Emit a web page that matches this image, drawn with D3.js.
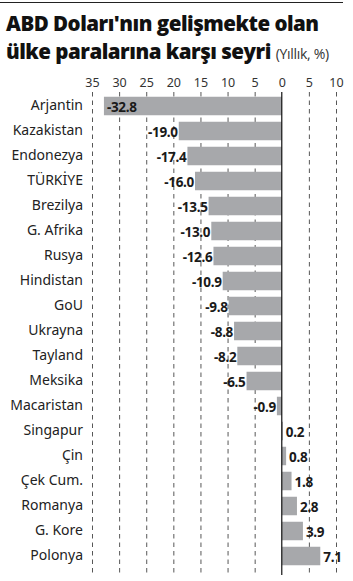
<!DOCTYPE html>
<html>
<head>
<meta charset="utf-8">
<script src="https://cdn.jsdelivr.net/npm/d3@7"></script>
<style>
  body { margin: 0; background: #fff; }
  svg { display: block; }
</style>
</head>
<body>
<svg id="chart" width="353" height="581"></svg>
<script>
var countries = ["Arjantin", "Kazakistan", "Endonezya", "TÜRKİYE", "Brezilya", "G. Afrika", "Rusya",
    "Hindistan", "GoU", "Ukrayna", "Tayland", "Meksika", "Macaristan", "Singapur", "Çin",
    "Çek Cum.", "Romanya", "G. Kore", "Polonya"];
var changes = [-32.8, -19.0, -17.4, -16.0, -13.5, -13.0, -12.6, -10.9, -9.8, -8.8, -8.2, -6.5, -0.9,
    0.2, 0.8, 1.8, 2.8, 3.9, 7.1];
var tickValues = [-35, -30, -25, -20, -15, -10, -5, 0, 5, 10];

var data = countries.map(function (c, i) { return { name: c, value: changes[i] }; });

var svg = d3.select("#chart"),
    font = "'Noto Sans', sans-serif";

// top rule
svg.append("line")
    .attr("x1", 0).attr("x2", 343)
    .attr("y1", 2.5).attr("y2", 2.5)
    .attr("stroke", "#222").attr("stroke-width", 1.2);

// title
var title = svg.append("g")
    .attr("font-family", "'Open Sans', sans-serif")
    .attr("font-weight", 800)
    .attr("fill", "#111");
title.append("text")
    .attr("x", 6).attr("y", 31)
    .attr("font-size", 20.5)
    .attr("letter-spacing", -0.5)
    .text("ABD Doları'nın gelişmekte olan");
var t2 = title.append("text")
    .attr("x", 6).attr("y", 59)
    .attr("font-size", 20.5)
    .attr("letter-spacing", -0.5);
t2.append("tspan").text("ülke paralarına karşı seyri ");
t2.append("tspan")
    .attr("font-weight", "normal")
    .attr("font-size", 14)
    .attr("letter-spacing", -0.3)
    .attr("fill", "#333")
    .text("(Yıllık, %)");

var x = d3.scaleLinear()
    .domain([-35, 10])
    .range([92, 336]);

var y = d3.scaleBand()
    .domain(countries)
    .range([93.5, 568.5])
    .paddingInner(0.26)
    .paddingOuter(0.13);

// dashed grid
svg.append("g")
    .selectAll("line")
    .data(tickValues.filter(function (d) { return d !== 0; }))
    .enter().append("line")
    .attr("x1", function (d) { return x(d) + 0.5; })
    .attr("x2", function (d) { return x(d) + 0.5; })
    .attr("y1", 92).attr("y2", 575)
    .attr("stroke", "#444")
    .attr("stroke-width", 0.9)
    .attr("stroke-dasharray", "4.5,4");

// tick labels (absolute values)
var xAxis = svg.append("g")
    .attr("transform", "translate(0,87)")
    .call(d3.axisTop(x).tickValues(tickValues).tickSize(0).tickPadding(0)
        .tickFormat(function (d) { return Math.abs(d); }));
xAxis.select(".domain").remove();
xAxis.selectAll("text")
    .attr("font-family", font)
    .attr("font-size", 12.5)
    .attr("fill", "#333");

// bars
svg.append("g")
    .selectAll("rect")
    .data(data)
    .enter().append("rect")
    .attr("x", function (d) { return x(Math.min(0, d.value)); })
    .attr("y", function (d) { return y(d.name); })
    .attr("width", function (d) { return Math.abs(x(d.value) - x(0)); })
    .attr("height", y.bandwidth())
    .attr("fill", "#a7a8ab");

// zero line
svg.append("line")
    .attr("x1", x(0)).attr("x2", x(0))
    .attr("y1", 92).attr("y2", 575)
    .attr("stroke", "#111").attr("stroke-width", 1.2);

// category labels
var yAxis = svg.append("g")
    .attr("transform", "translate(83,0)")
    .call(d3.axisLeft(y).tickSize(0).tickPadding(0));
yAxis.select(".domain").remove();
yAxis.selectAll("text")
    .attr("font-family", font)
    .attr("font-size", 14)
    .attr("fill", "#222");

// value labels
svg.append("g")
    .selectAll("text")
    .data(data)
    .enter().append("text")
    .attr("x", function (d) {
        if (d.value < -30) return x(d.value) + 3;
        return d.value < 0 ? x(d.value) - 1 : x(d.value) + 3;
    })
    .attr("y", function (d) { return y(d.name) + y.bandwidth() / 2 + 1; })
    .attr("dy", "0.35em")
    .attr("text-anchor", function (d) {
        if (d.value < -30) return "start";
        return d.value < 0 ? "end" : "start";
    })
    .attr("font-family", font)
    .attr("font-weight", "bold")
    .attr("font-size", 13.5)
    .attr("letter-spacing", -0.3)
    .attr("fill", "#1a1a1a")
    .text(function (d) { return d.value.toFixed(1); });
</script>
</body>
</html>
